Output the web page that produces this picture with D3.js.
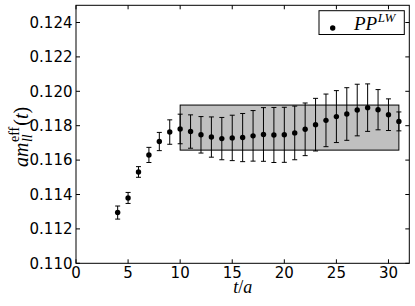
<!DOCTYPE html>
<html>
<head>
<meta charset="utf-8">
<script src="https://cdn.jsdelivr.net/npm/d3@7"></script>
<style>
  html, body { margin: 0; padding: 0; background: #fff; }
  svg { display: block; }
</style>
</head>
<body>
<script>
// ---- data ----
const tValues = [4,5,6,7,8,9,10,11,12,13,14,15,16,17,18,19,20,21,22,23,24,25,26,27,28,29,30,31];
const meffValues = [0.11295,0.11380,0.11531,0.11630,0.11708,0.11763,0.11781,0.11766,0.11747,0.11734,0.11725,0.11729,0.11731,0.11741,0.11749,0.11746,0.11747,0.11758,0.11779,0.11806,0.11831,0.11853,0.11868,0.11891,0.11905,0.11893,0.11864,0.11825];
const meffErrors = [0.00038,0.00032,0.00031,0.00044,0.00053,0.00071,0.00086,0.00097,0.00106,0.00117,0.00123,0.00132,0.00140,0.00147,0.00156,0.00160,0.00160,0.00156,0.00153,0.00153,0.00153,0.00151,0.00153,0.00150,0.00138,0.00117,0.00092,0.00055];
const bandRange = [10, 31];
const bandValues = [0.11658, 0.11920];
const xTicks = [0,5,10,15,20,25,30];
const yTicks = [0.110,0.112,0.114,0.116,0.118,0.120,0.122,0.124];
const xDomain = [0, 32];
const yDomain = [0.110, 0.125];
const legendLabel = "PP";
const legendSup = "LW";

const W = 415, H = 306;
const L = 76, R = 409.3, T = 5.3, B = 263.3;

const svg = d3.select("body").append("svg").attr("width", W).attr("height", H);

const x = d3.scaleLinear().domain(xDomain).range([L, R]);
const y = d3.scaleLinear().domain(yDomain).range([B, T]);

// band
svg.append("rect")
  .attr("x", x(bandRange[0])).attr("y", y(bandValues[1]))
  .attr("width", x(bandRange[1]) - x(bandRange[0]))
  .attr("height", y(bandValues[0]) - y(bandValues[1]))
  .attr("fill", "#c0c0c0").attr("stroke", "#000").attr("stroke-width", 1);

// error bars
const data = tValues.map((t, i) => ({t, v: meffValues[i], e: meffErrors[i]}));
const eb = svg.append("g").attr("stroke", "#000").attr("stroke-width", 1);
data.forEach(d => {
  const cx = x(d.t);
  eb.append("line").attr("x1", cx).attr("x2", cx).attr("y1", y(d.v - d.e)).attr("y2", y(d.v + d.e));
  [d.v - d.e, d.v + d.e].forEach(v => {
    eb.append("line").attr("x1", cx - 2.5).attr("x2", cx + 2.5).attr("y1", y(v)).attr("y2", y(v));
  });
});
svg.append("g").selectAll("circle").data(data).join("circle")
  .attr("cx", d => x(d.t)).attr("cy", d => y(d.v)).attr("r", 2.7).attr("fill", "#000");

// frame
svg.append("rect").attr("x", L).attr("y", T).attr("width", R - L).attr("height", B - T)
  .attr("fill", "none").attr("stroke", "#000").attr("stroke-width", 1);

// ticks
const tk = svg.append("g").attr("stroke", "#000").attr("stroke-width", 1);
xTicks.forEach(t => {
  tk.append("line").attr("x1", x(t)).attr("x2", x(t)).attr("y1", B).attr("y2", B - 4);
  tk.append("line").attr("x1", x(t)).attr("x2", x(t)).attr("y1", T).attr("y2", T + 4);
});
yTicks.forEach(v => {
  tk.append("line").attr("x1", L).attr("x2", L + 4).attr("y1", y(v)).attr("y2", y(v));
  tk.append("line").attr("x1", R).attr("x2", R - 4).attr("y1", y(v)).attr("y2", y(v));
});

// tick labels
const lab = svg.append("g").attr("font-family", "DejaVu Sans").attr("font-size", 15).attr("fill", "#000");
xTicks.forEach(t => {
  lab.append("text").attr("x", x(t)).attr("y", B + 14.7).attr("text-anchor", "middle").text(d3.format("d")(t));
});
yTicks.forEach(v => {
  lab.append("text").attr("x", L - 3.5).attr("y", y(v) + 5.3).attr("text-anchor", "end").text(d3.format(".3f")(v));
});

// x label
const xl = svg.append("text").attr("x", (L + R) / 2).attr("y", 293)
  .attr("text-anchor", "middle").attr("font-family", "Liberation Serif").attr("font-size", 18);
xl.append("tspan").attr("font-style", "italic").text("t");
xl.append("tspan").text("/");
xl.append("tspan").attr("font-style", "italic").text("a");

// y label (rotated) built from pieces
const yg = svg.append("g").attr("transform", "translate(27.5,167) rotate(-90)")
  .attr("font-family", "Liberation Serif").attr("fill", "#000");
let cur = 0;
const am = yg.append("text").attr("x", cur).attr("y", 0).attr("font-size", 20).attr("font-style", "italic").text("am");
cur += am.node().getComputedTextLength() + 0.5;
const sub = yg.append("text").attr("x", cur).attr("y", 4).attr("font-size", 14).attr("font-style", "italic").text("ll");
const sup = yg.append("text").attr("x", cur).attr("y", -9).attr("font-size", 14).text("eff");
cur += Math.max(sub.node().getComputedTextLength(), sup.node().getComputedTextLength()) + 1;
const pt = yg.append("text").attr("x", cur).attr("y", 0).attr("font-size", 20);
pt.append("tspan").text("(");
pt.append("tspan").attr("font-style", "italic").text("t");
pt.append("tspan").text(")");

// legend
svg.append("rect").attr("x", 319).attr("y", 10.7).attr("width", 85.3).attr("height", 23.8)
  .attr("fill", "#fff").attr("stroke", "#000").attr("stroke-width", 1);
svg.append("circle").attr("cx", 332.7).attr("cy", 28).attr("r", 2.7).attr("fill", "#000");
const lt = svg.append("g").attr("font-family", "Liberation Serif").attr("font-style", "italic");
const pp = lt.append("text").attr("x", 354).attr("y", 29.5).attr("font-size", 19).text(legendLabel);
const ppw = pp.node().getComputedTextLength();
lt.append("text").attr("x", 354 + ppw + 0.5).attr("y", 22).attr("font-size", 13).text(legendSup);
</script>
</body>
</html>
